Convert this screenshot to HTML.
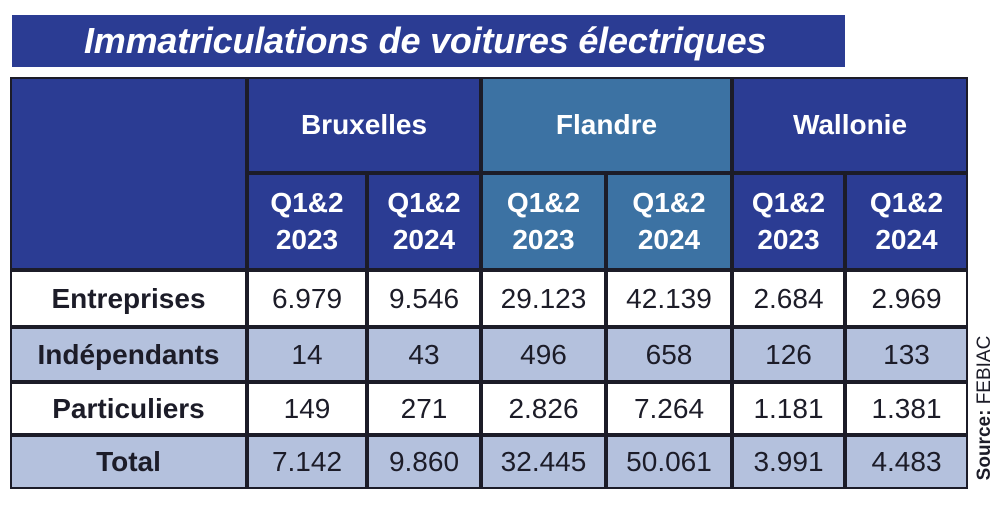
<!DOCTYPE html>
<html><head><meta charset="utf-8"><style>
body{margin:0;width:1000px;height:507px;background:#fff;font-family:"Liberation Sans",sans-serif;position:relative;overflow:hidden}
.c{position:absolute;box-sizing:border-box;border:2px solid #1c1c28;display:flex;align-items:center;justify-content:center;text-align:center;font-size:28px;color:#1c1c28}
.h{background:#2b3c93;color:#fff;font-weight:bold}
.f{background:#3c72a3;color:#fff;font-weight:bold}
.l{background:#b4c1dd}
.b{font-weight:bold}
</style></head><body>
<div style="position:absolute;left:12px;top:15px;width:833px;height:52px;background:#2b3c93;color:#fff;font-style:italic;font-weight:bold;font-size:36px;letter-spacing:-0.2px;line-height:52px;padding-left:72px;box-sizing:border-box;white-space:nowrap">Immatriculations de voitures électriques</div>
<div id="t" style="position:absolute;left:10px;top:77px;width:958px;height:412px;border:2px solid #1c1c28;box-sizing:border-box"></div>
<div style="position:absolute;left:985px;top:408px;transform:translate(-50%,-50%) rotate(-90deg);font-size:19px;white-space:nowrap;color:#1c1c28"><b>Source:</b> FEBIAC</div>
<script>
const regions=["Bruxelles","Flandre","Wallonie"];
const periods=["Q1&2<br>2023","Q1&2<br>2024"];
const rowLabels=["Entreprises","Indépendants","Particuliers","Total"];
const values=[["6.979","9.546","29.123","42.139","2.684","2.969"],["14","43","496","658","126","133"],["149","271","2.826","7.264","1.181","1.381"],["7.142","9.860","32.445","50.061","3.991","4.483"]];
const xs=[10,247,367,481,606,732,845,968];
const ys=[270,327,382,435,489];
function cell(x1,y1,x2,y2,cls,html,name){const d=document.createElement('div');d.className='c '+cls;d.style.left=x1+'px';d.style.top=y1+'px';d.style.width=(x2-x1)+'px';d.style.height=(y2-y1)+'px';d.innerHTML=html;


document.body.appendChild(d);}
cell(10,77,247,270,'h','','corner-cell');
regions.forEach((r,i)=>{cell(xs[1+2*i],77,xs[3+2*i],173,i==1?'f':'h',r,'region-header');
periods.forEach((p,j)=>cell(xs[1+2*i+j],173,xs[2+2*i+j],270,i==1?'f':'h','<span style="line-height:1.3">'+p+'</span>','period-header'));});
rowLabels.forEach((lab,r)=>{const cls=r%2?'l':'';cell(10,ys[r],247,ys[r+1],cls+' b',lab,'row-label');
values[r].forEach((v,k)=>cell(xs[k+1],ys[r],xs[k+2],ys[r+1],cls,v,'value-cell'));});
</script>
</body></html>
